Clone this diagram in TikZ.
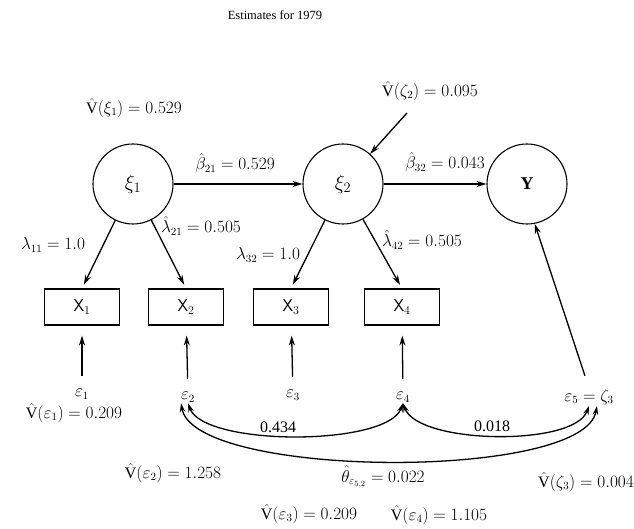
\documentclass[tikz,border=0pt]{standalone}
\usepackage{fontspec}
\setmainfont{Liberation Serif}
\usetikzlibrary{arrows.meta}
\newcommand{\Vhat}{\hat{\mathrm{V}}}
\begin{document}
\begin{tikzpicture}[x=1pt,y=1pt,font=\fontsize{16}{18}\selectfont,
  latent/.style={draw,circle,line width=1.1pt,minimum size=80pt,inner sep=0pt},
  obs/.style={draw,rectangle,line width=1.1pt,minimum width=75pt,minimum height=36pt,
    font=\fontsize{17}{19}\selectfont},
  lab/.style={inner sep=1pt},
  arr/.style={-{Stealth[length=10pt,width=6pt]},line width=1.3pt},
  errarr/.style={arr,shorten <=12pt,shorten >=10pt},
  darr/.style={{Stealth[length=9pt,width=5.5pt]}-{Stealth[length=9pt,width=5.5pt]},line width=1.3pt}]
  \useasboundingbox (0,0) rectangle (634,529);
  % titel
  \node (title) at (275,514) {\fontsize{12.5}{14}\selectfont Estimates for 1979};
  % latente variabelen
  \node[latent] (xi1) at (133,345) {\fontsize{22}{24}\selectfont$\xi_1$};
  \node[latent] (xi2) at (343,345) {\fontsize{22}{24}\selectfont$\xi_2$};
  \node[latent] (Y) at (527,345) {\fontsize{18}{20}\selectfont\bfseries Y};
  % indicatoren
  \node[obs] (X1) at (82,222) {$\mathsf{X}_1$};
  \node[obs] (X2) at (186,222) {$\mathsf{X}_2$};
  \node[obs] (X3) at (291,222) {$\mathsf{X}_3$};
  \node[obs] (X4) at (402,222) {$\mathsf{X}_4$};
  % storingstermen
  \node[lab] (e1) at (82,135) {$\varepsilon_1$};
  \node[lab] (e2) at (188,132) {$\varepsilon_2$};
  \node[lab] (e3) at (293,134) {$\varepsilon_3$};
  \node[lab] (e4) at (403,132) {$\varepsilon_4$};
  \node[lab] (e5) at (589,132) {$\varepsilon_5 = \zeta_3$};
  \coordinate (z2) at (407,416);
  % structurele pijlen
  \draw[arr] (xi1) -- (xi2);
  \draw[arr] (xi2) -- (Y);
  \draw[arr] (z2) -- (xi2);
  \draw[arr,shorten <=13pt] (e5.north) -- (Y.-79);
  % ladingen
  \draw[arr,shorten >=4pt] (xi1) -- (X1.north);
  \draw[arr,shorten >=4pt] (xi1) -- (X2.north);
  \draw[arr,shorten >=4pt] (xi2) -- (X3.north);
  \draw[arr,shorten >=4pt] (xi2) -- (X4.north);
  % meetfouten
  \draw[errarr] (e1) -- (X1);
  \draw[errarr] (e2) -- (X2);
  \draw[errarr] (e3) -- (X3);
  \draw[errarr] (e4) -- (X4);
  % covarianties
  \draw[darr] (e2.south) to[out=-70,in=-110,looseness=0.55] (e4.south);
  \draw[darr] (e4.south) to[out=-70,in=-110,looseness=0.6] (e5.south);
  \draw[darr] ([xshift=-7pt]e2.south) to[out=-80,in=-100,looseness=0.47] ([xshift=8pt]e5.south);
  % schattingen
  \node[lab] (vxi1) at (134,421) {$\Vhat(\xi_1) = 0.529$};
  \node[lab] (vz2) at (430,438) {$\Vhat(\zeta_2) = 0.095$};
  \node[lab] (b21) at (235,366) {$\hat{\beta}_{21} = 0.529$};
  \node[lab] (b32) at (445,367) {$\hat{\beta}_{32} = 0.043$};
  \node[lab] (l11) at (53,284) {$\lambda_{11} = 1.0$};
  \node[lab] (l21) at (201,303) {$\hat{\lambda}_{21} = 0.505$};
  \node[lab] (l32) at (268,274) {$\lambda_{32} = 1.0$};
  \node[lab] (l42) at (422,289) {$\hat{\lambda}_{42} = 0.505$};
  \node[lab] (ve1) at (74,116) {$\Vhat(\varepsilon_1) = 0.209$};
  \node[lab] (c24) at (278,102) {0.434};
  \node[lab] (c45) at (492,103) {0.018};
  \node[lab] (ve2) at (173,56) {$\Vhat(\varepsilon_2) = 1.258$};
  \node[lab] (th) at (383,52) {$\hat{\theta}_{\varepsilon_{5,2}} = 0.022$};
  \node[lab] (vz3) at (586,47) {$\Vhat(\zeta_3) = 0.004$};
  \node[lab] (ve3) at (309,15) {$\Vhat(\varepsilon_3) = 0.209$};
  \node[lab] (ve4) at (439,14) {$\Vhat(\varepsilon_4) = 1.105$};
\end{tikzpicture}
\end{document}
